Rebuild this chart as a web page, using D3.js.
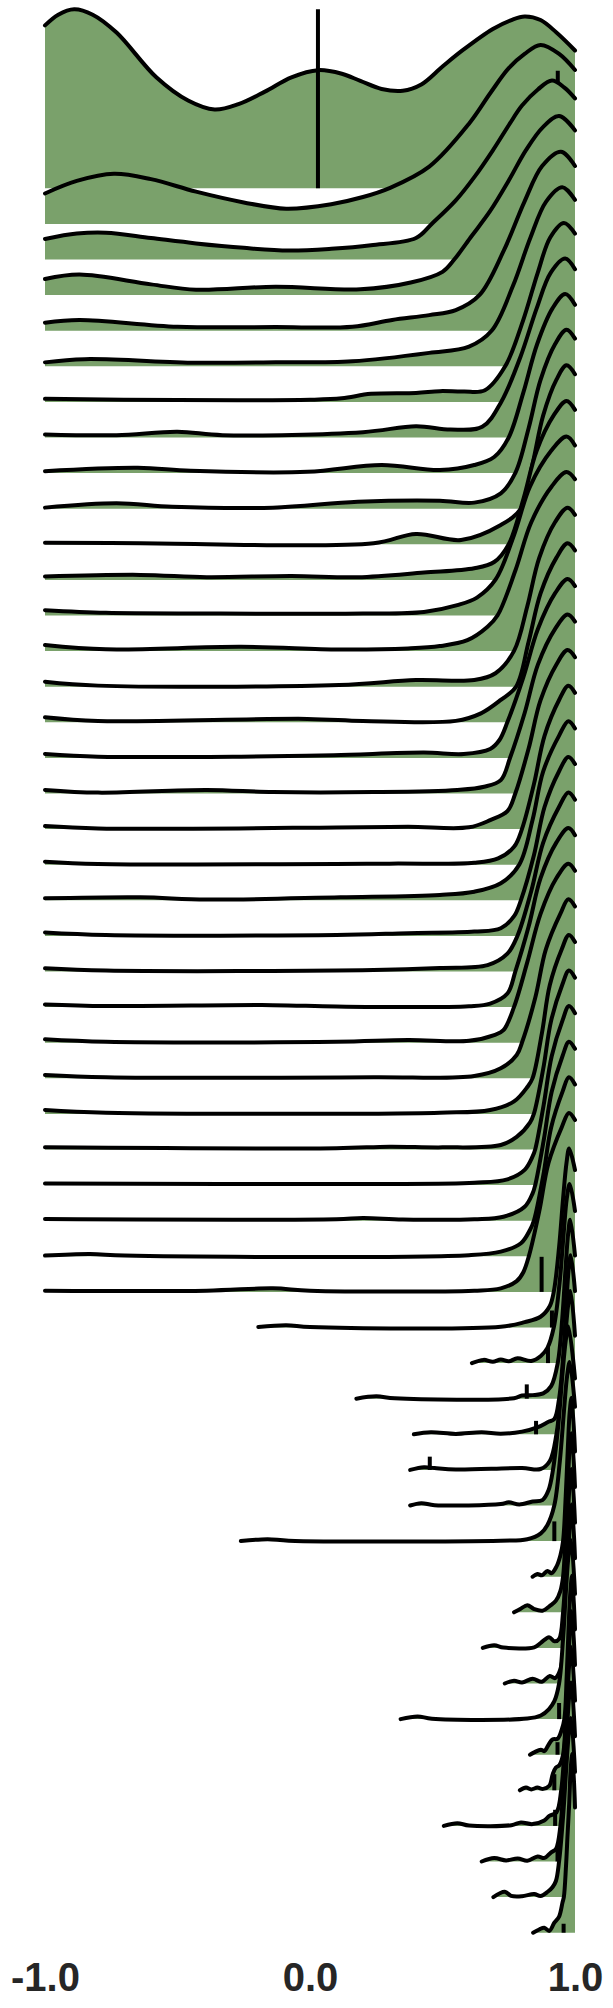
<!DOCTYPE html>
<html>
<head>
<meta charset="utf-8">
<script src="https://cdn.jsdelivr.net/npm/d3@7"></script>
<style>
  html, body { margin: 0; padding: 0; background: #ffffff; }
  svg { display: block; }
</style>
</head>
<body>
<svg id="chart" width="613" height="2008"></svg>
<script>
// ---- data (x, relative density), one ridge per row ----
const xTicks = [-1.0, 0.0, 1.0];
const tickLabels = ["-1.0", "0.0", "1.0"];

const ridges = [
  [[-1,0.91],[-0.95,0.97],[-0.89,1.0],[-0.82,0.97],[-0.73,0.87],[-0.58,0.62],[-0.46,0.49],[-0.36,0.44],[-0.27,0.47],[-0.17,0.54],[-0.07,0.62],[0.03,0.66],[0.12,0.64],[0.19,0.6],[0.27,0.555],[0.35,0.545],[0.42,0.58],[0.5,0.68],[0.575,0.77],[0.69,0.89],[0.76,0.94],[0.81,0.96],[0.87,0.94],[0.93,0.87],[1,0.77]],
  [[-1,0.17],[-0.88,0.24],[-0.74,0.28],[-0.6,0.25],[-0.43,0.18],[-0.25,0.12],[-0.09,0.085],[0.08,0.11],[0.2,0.15],[0.3,0.2],[0.45,0.32],[0.6,0.56],[0.68,0.73],[0.75,0.87],[0.81,0.95],[0.87,1.0],[0.94,0.95],[1,0.86]],
  [[-1,0.115],[-0.88,0.145],[-0.77,0.15],[-0.6,0.12],[-0.43,0.09],[-0.25,0.065],[-0.08,0.05],[0.08,0.06],[0.23,0.08],[0.4,0.12],[0.46,0.2],[0.55,0.33],[0.62,0.46],[0.69,0.61],[0.75,0.75],[0.8,0.86],[0.86,0.95],[0.913,1],[0.96,0.96],[1,0.9]],
  [[-1,0.09],[-0.87,0.115],[-0.6,0.06],[-0.43,0.03],[-0.13,0.047],[0.19,0.032],[0.38,0.07],[0.5,0.13],[0.545,0.2],[0.61,0.33],[0.68,0.47],[0.75,0.64],[0.815,0.81],[0.88,0.94],[0.94,1],[1,0.92]],
  [[-1,0.045],[-0.87,0.06],[-0.5,0.022],[-0.13,0.02],[0.16,0.022],[0.31,0.06],[0.45,0.087],[0.55,0.115],[0.64,0.2],[0.732,0.45],[0.809,0.72],[0.876,0.92],[0.947,1],[1,0.92]],
  [[-1,0.022],[-0.85,0.04],[-0.43,0.02],[-0.13,0.022],[0.16,0.028],[0.45,0.075],[0.6,0.11],[0.686,0.2],[0.766,0.45],[0.832,0.72],[0.891,0.92],[0.952,1],[1,0.93]],
  [[-1,0.017],[-0.5,0.01],[0.0,0.012],[0.12,0.02],[0.23,0.045],[0.4,0.05],[0.49,0.06],[0.58,0.058],[0.66,0.065],[0.737,0.2],[0.803,0.45],[0.859,0.72],[0.907,0.92],[0.958,1],[1,0.94]],
  [[-1,0.017],[-0.73,0.013],[-0.5,0.032],[-0.33,0.013],[0.2,0.03],[0.4,0.063],[0.53,0.045],[0.65,0.06],[0.722,0.2],[0.794,0.45],[0.855,0.72],[0.908,0.92],[0.963,1],[1,0.94]],
  [[-1,0.011],[-0.65,0.03],[-0.45,0.013],[-0.01,0.007],[0.27,0.045],[0.49,0.017],[0.62,0.045],[0.695,0.09],[0.75,0.2],[0.805,0.45],[0.857,0.72],[0.915,0.92],[0.963,1],[1,0.94]],
  [[-1,0.006],[-0.73,0.03],[-0.52,0.011],[-0.14,0.006],[0.18,0.039],[0.49,0.045],[0.62,0.034],[0.72,0.086],[0.775,0.2],[0.825,0.45],[0.87,0.72],[0.925,0.92],[0.968,1],[1,0.95]],
  [[-1,0.009],[-0.64,0.006],[0.24,0.006],[0.4,0.058],[0.57,0.024],[0.72,0.108],[0.796,0.2],[0.84,0.45],[0.88,0.72],[0.93,0.92],[0.968,1],[1,0.95]],
  [[-1,0.019],[-0.64,0.028],[-0.39,0.015],[-0.07,0.022],[0.18,0.015],[0.43,0.041],[0.62,0.065],[0.695,0.1],[0.75,0.2],[0.805,0.45],[0.855,0.72],[0.92,0.92],[0.968,1],[1,0.95]],
  [[-1,0.03],[-0.77,0.015],[-0.4,0.011],[0.2,0.011],[0.43,0.02],[0.556,0.058],[0.63,0.1],[0.70,0.2],[0.77,0.45],[0.83,0.72],[0.91,0.92],[0.968,1],[1,0.95]],
  [[-1,0.034],[-0.77,0.01],[-0.26,0.024],[0.11,0.009],[0.37,0.015],[0.49,0.028],[0.594,0.061],[0.67,0.136],[0.708,0.2],[0.775,0.45],[0.835,0.72],[0.912,0.92],[0.968,1],[1,0.96]],
  [[-1,0.028],[-0.8,0.006],[0.11,0.009],[0.4,0.037],[0.62,0.037],[0.7,0.075],[0.77,0.2],[0.82,0.45],[0.865,0.72],[0.925,0.92],[0.972,1],[1,0.96]],
  [[-1,0.028],[-0.8,0.007],[-0.01,0.019],[0.2,0.007],[0.55,0.008],[0.645,0.05],[0.72,0.125],[0.778,0.2],[0.825,0.45],[0.87,0.72],[0.93,0.92],[0.972,1],[1,0.96]],
  [[-1,0.022],[-0.8,0.007],[-0.26,0.007],[0.09,0.015],[0.43,0.03],[0.58,0.022],[0.68,0.05],[0.715,0.1],[0.745,0.2],[0.805,0.45],[0.86,0.72],[0.925,0.92],[0.972,1],[1,0.96]],
  [[-1,0.02],[-0.8,0.005],[-0.39,0.02],[-0.14,0.008],[0.24,0.008],[0.556,0.02],[0.657,0.038],[0.72,0.075],[0.755,0.2],[0.81,0.45],[0.86,0.72],[0.925,0.92],[0.972,1],[1,0.96]],
  [[-1,0.017],[-0.8,0.004],[0.1,0.009],[0.37,0.013],[0.6,0.01],[0.68,0.05],[0.745,0.1],[0.775,0.2],[0.825,0.45],[0.87,0.72],[0.93,0.92],[0.972,1],[1,0.96]],
  [[-1,0.017],[-0.8,0.004],[0.3,0.006],[0.62,0.011],[0.71,0.035],[0.77,0.1],[0.80,0.2],[0.845,0.45],[0.885,0.72],[0.94,0.92],[0.975,1],[1,0.96]],
  [[-1,0.011],[-0.64,0.017],[-0.39,0.004],[0.115,0.017],[0.49,0.03],[0.62,0.048],[0.72,0.095],[0.79,0.2],[0.84,0.45],[0.88,0.72],[0.94,0.92],[0.975,1],[1,0.96]],
  [[-1,0.019],[-0.77,0.005],[0.1,0.005],[0.37,0.015],[0.62,0.024],[0.72,0.043],[0.77,0.11],[0.796,0.2],[0.845,0.45],[0.885,0.72],[0.94,0.92],[0.975,1],[1,0.96]],
  [[-1,0.018],[-0.77,0.005],[0.24,0.008],[0.49,0.02],[0.67,0.036],[0.745,0.1],[0.783,0.2],[0.835,0.45],[0.88,0.72],[0.94,0.92],[0.975,1],[1,0.96]],
  [[-1,0.015],[-0.77,0.006],[-0.14,0.011],[0.1,0.003],[0.6,0.005],[0.68,0.02],[0.745,0.076],[0.775,0.2],[0.825,0.45],[0.87,0.72],[0.93,0.92],[0.975,1],[1,0.96]],
  [[-1,0.019],[-0.77,0.005],[0.1,0.005],[0.37,0.015],[0.6,0.011],[0.695,0.043],[0.73,0.07],[0.77,0.2],[0.82,0.45],[0.87,0.72],[0.93,0.92],[0.975,1],[1,0.96]],
  [[-1,0.019],[-0.77,0.006],[0.24,0.006],[0.62,0.013],[0.72,0.056],[0.78,0.13],[0.8,0.2],[0.85,0.45],[0.89,0.72],[0.945,0.92],[0.975,1],[1,0.96]],
  [[-1,0.022],[-0.77,0.007],[0.49,0.007],[0.68,0.022],[0.77,0.07],[0.82,0.15],[0.84,0.2],[0.875,0.45],[0.905,0.72],[0.95,0.92],[0.977,1],[1,0.96]],
  [[-1,0.012],[0.1,0.007],[0.3,0.016],[0.5,0.012],[0.72,0.025],[0.78,0.07],[0.83,0.15],[0.845,0.2],[0.88,0.45],[0.91,0.72],[0.952,0.92],[0.977,1],[1,0.96]],
  [[-1,0.009],[0.24,0.006],[0.62,0.013],[0.745,0.032],[0.81,0.085],[0.84,0.16],[0.85,0.2],[0.882,0.45],[0.912,0.72],[0.953,0.92],[0.977,1],[1,0.96]],
  [[-1,0.009],[0.1,0.008],[0.2,0.015],[0.35,0.007],[0.62,0.008],[0.73,0.022],[0.81,0.078],[0.84,0.153],[0.85,0.2],[0.882,0.45],[0.912,0.72],[0.953,0.92],[0.977,1],[1,0.96]],
  [[-1,0.004],[-0.83,0.013],[-0.7,0.004],[0.6,0.006],[0.72,0.026],[0.796,0.073],[0.83,0.147],[0.845,0.2],[0.88,0.45],[0.91,0.72],[0.953,0.92],[0.977,1],[1,0.96]],
  [[-1,0.007],[-0.39,0.007],[-0.14,0.02],[0.0,0.007],[0.62,0.007],[0.72,0.02],[0.78,0.06],[0.805,0.11],[0.826,0.2],[0.865,0.45],[0.9,0.72],[0.95,0.92],[0.977,1],[1,0.96]],
  [[-0.195,0.003],[-0.09,0.013],[0.0,0.003],[0.72,0.004],[0.81,0.03],[0.87,0.06],[0.905,0.12],[0.92,0.2],[0.94,0.45],[0.955,0.72],[0.968,0.92],[0.978,1],[1,0.88]],
  [[0.611,0.0],[0.655,0.018],[0.69,0.008],[0.72,0.02],[0.75,0.01],[0.783,0.027],[0.835,0.012],[0.871,0.04],[0.896,0.085],[0.92,0.2],[0.942,0.45],[0.957,0.72],[0.969,0.92],[0.98,1],[1,0.85]],
  [[0.175,0.0],[0.25,0.013],[0.32,0.002],[0.77,0.003],[0.8,0.018],[0.84,0.02],[0.88,0.03],[0.91,0.07],[0.935,0.2],[0.952,0.45],[0.964,0.72],[0.974,0.92],[0.982,1],[1,0.8]],
  [[0.392,0.0],[0.456,0.011],[0.55,0.002],[0.648,0.011],[0.72,0.003],[0.8,0.015],[0.86,0.04],[0.9,0.07],[0.922,0.085],[0.94,0.2],[0.956,0.45],[0.967,0.72],[0.976,0.92],[0.984,1],[1,0.8]],
  [[0.378,0.0],[0.43,0.015],[0.47,0.01],[0.55,0.002],[0.8,0.01],[0.87,0.005],[0.905,0.05],[0.93,0.2],[0.948,0.45],[0.962,0.72],[0.974,0.92],[0.983,1],[1,0.75]],
  [[0.378,0.0],[0.42,0.013],[0.47,0.002],[0.72,0.008],[0.75,0.018],[0.79,0.006],[0.84,0.022],[0.877,0.03],[0.9,0.085],[0.917,0.2],[0.937,0.45],[0.952,0.72],[0.965,0.92],[0.975,1],[1,0.71]],
  [[-0.261,0.0],[-0.16,0.011],[-0.08,0.002],[0.72,0.002],[0.82,0.01],[0.871,0.043],[0.896,0.09],[0.922,0.2],[0.943,0.45],[0.958,0.72],[0.97,0.92],[0.98,1],[1,0.75]],
  [[0.84,0.0],[0.858,0.015],[0.875,0.008],[0.896,0.032],[0.912,0.02],[0.93,0.056],[0.945,0.12],[0.955,0.2],[0.965,0.45],[0.973,0.72],[0.98,0.92],[0.987,1],[1,0.7]],
  [[0.77,0.0],[0.795,0.02],[0.82,0.04],[0.846,0.018],[0.877,0.009],[0.909,0.04],[0.928,0.065],[0.945,0.12],[0.955,0.2],[0.965,0.45],[0.973,0.72],[0.98,0.92],[0.987,1],[1,0.7]],
  [[0.652,0.0],[0.695,0.015],[0.73,0.002],[0.846,0.003],[0.871,0.028],[0.902,0.06],[0.922,0.037],[0.94,0.05],[0.955,0.2],[0.965,0.45],[0.973,0.72],[0.98,0.92],[0.987,1],[1,0.7]],
  [[0.735,0.0],[0.77,0.016],[0.8,0.006],[0.84,0.026],[0.875,0.01],[0.905,0.042],[0.925,0.03],[0.945,0.08],[0.957,0.2],[0.967,0.45],[0.975,0.72],[0.982,0.92],[0.988,1],[1,0.7]],
  [[0.342,0.0],[0.406,0.015],[0.46,0.002],[0.82,0.003],[0.871,0.02],[0.902,0.056],[0.922,0.1],[0.94,0.2],[0.955,0.45],[0.966,0.72],[0.976,0.92],[0.985,1],[1,0.7]],
  [[0.83,0.0],[0.846,0.013],[0.871,0.028],[0.884,0.02],[0.902,0.06],[0.915,0.085],[0.935,0.09],[0.95,0.14],[0.96,0.2],[0.969,0.45],[0.976,0.72],[0.983,0.92],[0.989,1],[1,0.7]],
  [[0.792,0.0],[0.815,0.015],[0.835,0.005],[0.858,0.015],[0.88,0.008],[0.903,0.025],[0.916,0.09],[0.928,0.127],[0.941,0.14],[0.955,0.2],[0.966,0.45],[0.975,0.72],[0.982,0.92],[0.988,1],[1,0.7]],
  [[0.505,0.0],[0.556,0.015],[0.6,0.002],[0.76,0.004],[0.796,0.019],[0.84,0.01],[0.884,0.03],[0.903,0.056],[0.93,0.075],[0.948,0.2],[0.961,0.45],[0.971,0.72],[0.979,0.92],[0.986,1],[1,0.7]],
  [[0.648,0.0],[0.695,0.019],[0.74,0.006],[0.784,0.017],[0.82,0.004],[0.859,0.028],[0.885,0.02],[0.909,0.05],[0.928,0.07],[0.945,0.2],[0.958,0.45],[0.969,0.72],[0.978,0.92],[0.986,1],[1,0.7]],
  [[0.692,0.0],[0.735,0.03],[0.759,0.007],[0.8,0.005],[0.846,0.017],[0.87,0.006],[0.897,0.03],[0.915,0.055],[0.928,0.09],[0.94,0.2],[0.955,0.45],[0.967,0.72],[0.977,0.92],[0.985,1],[1,0.7]],
  [[0.842,0.0],[0.865,0.018],[0.884,0.028],[0.903,0.01],[0.922,0.056],[0.94,0.09],[0.953,0.17],[0.958,0.2],[0.966,0.37],[0.972,0.55],[0.978,0.72],[0.984,0.92],[0.99,1],[1,0.7]]
];

// vertical marker per ridge: x value and relative height (null = none visible)
const markerX = [0.03, 0.935, null, null, null, null, null, null, null, null,
                 null, null, null, null, null, null, null, null, null, null,
                 null, null, null, null, null, null, null, null, null, null,
                 null, 0.874, 0.913, 0.898, 0.818, 0.853, 0.452, null, 0.922, null,
                 null, null, null, 0.94, 0.934, 0.922, 0.925, 0.934, null, 0.957];
const markerH = [1.0, 0.856, null, null, null, null, null, null, null, null,
                 null, null, null, null, null, null, null, null, null, null,
                 null, null, null, null, null, null, null, null, null, null,
                 null, 0.196, 0.095, 0.09, 0.08, 0.075, 0.074, null, 0.11, null,
                 null, null, null, 0.09, 0.07, 0.09, 0.09, 0.08, null, 0.05];

// ---- drawing ----
const svg = d3.select("#chart");
const FILL = "#7aa16b";

const x = d3.scaleLinear().domain([-1, 1]).range([45, 575]);
const rowY = d3.scaleLinear().domain([0, ridges.length - 1]).range([188.3, 1932.7]);
const hY = d3.scaleLinear().domain([0, 1]).range([0, 179]);
const curve = d3.curveCatmullRom.alpha(0.5);

ridges.forEach((knots, i) => {
  const base = rowY(i);
  const g = svg.append("g").attr("class", "ridge");
  const area = d3.area()
    .x(d => x(d[0]))
    .y0(base)
    .y1(d => base - hY(d[1]))
    .curve(curve);
  const line = d3.line()
    .x(d => x(d[0]))
    .y(d => base - hY(d[1]))
    .curve(curve);
  g.append("path").attr("d", area(knots)).attr("fill", FILL).attr("stroke", "none");
  g.append("path").attr("d", line(knots))
    .attr("fill", "none")
    .attr("stroke", "#000")
    .attr("stroke-width", 4)
    .attr("stroke-linejoin", "round")
    .attr("stroke-linecap", "round");
  if (markerX[i] !== null) {
    g.append("line")
      .attr("x1", x(markerX[i])).attr("x2", x(markerX[i]))
      .attr("y1", base).attr("y2", base - hY(markerH[i]))
      .attr("stroke", "#000")
      .attr("stroke-width", 4);
  }
});

// x axis (labels only)
const axis = d3.axisBottom(x)
  .tickValues(xTicks)
  .tickFormat((d, i) => tickLabels[i])
  .tickSize(0);
const ax = svg.append("g").attr("transform", "translate(0,1991)").call(axis);
ax.select(".domain").remove();
ax.selectAll("text")
  .attr("y", 0).attr("dy", 0)
  .attr("fill", "#262626")
  .style("font-family", "'Liberation Sans', Arial, sans-serif")
  .style("font-weight", "bold")
  .style("font-size", "40px");
</script>
</body>
</html>
